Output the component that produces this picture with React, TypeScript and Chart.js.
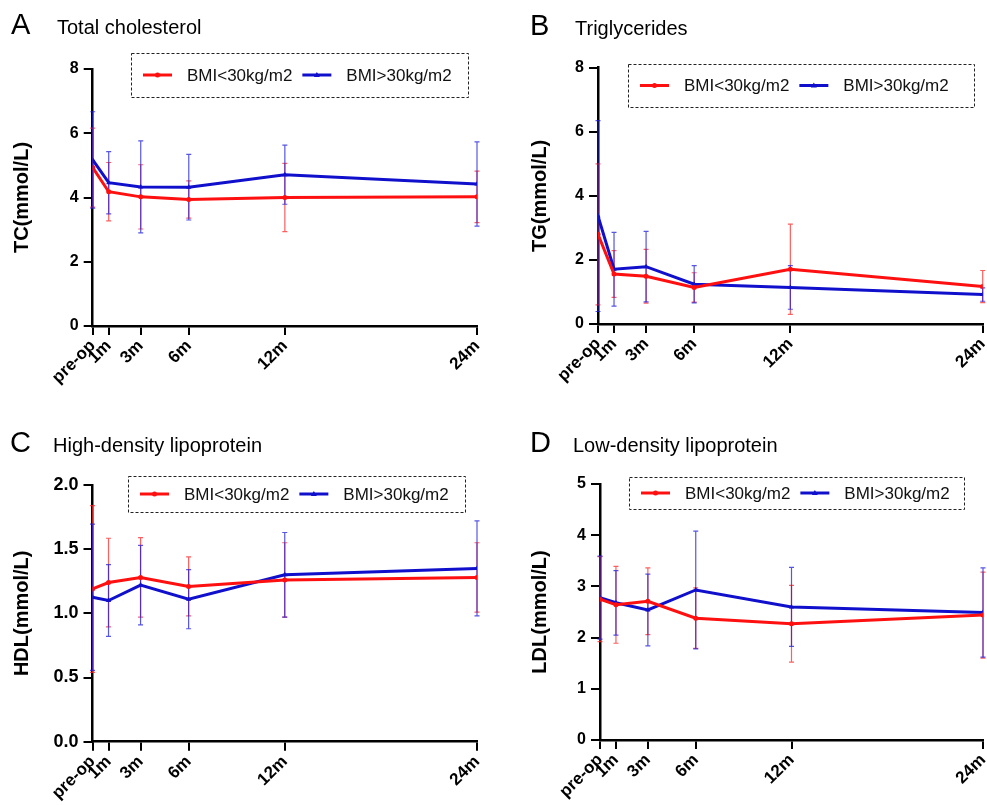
import React, { useEffect, useRef } from 'react';
import { Chart, registerables } from 'chart.js';

Chart.register(...registerables);

// ---- data ----
const xMonths = [0, 1, 3, 6, 12, 24];
const xLabels = ['pre-op', '1m', '3m', '6m', '12m', '24m'];
const seriesNames = ['BMI<30kg/m2', 'BMI>30kg/m2'];

const tcLow = [4.93, 4.18, 4.02, 3.94, 4.0, 4.02];
const tcLowSd = [1.23, 0.91, 1.0, 0.58, 1.06, 0.8];
const tcHigh = [5.17, 4.46, 4.33, 4.32, 4.71, 4.42];
const tcHighSd = [1.5, 0.97, 1.43, 1.02, 0.92, 1.31];

const tgLow = [2.8, 1.56, 1.49, 1.14, 1.71, 1.17];
const tgLowSd = [2.2, 0.73, 0.84, 0.46, 1.41, 0.5];
const tgHigh = [3.37, 1.71, 1.79, 1.24, 1.14, 0.92];
const tgHighSd = [2.98, 1.15, 1.1, 0.58, 0.68, 0.21];

const hdlLow = [1.19, 1.24, 1.28, 1.21, 1.26, 1.28];
const hdlLowSd = [0.65, 0.345, 0.31, 0.23, 0.29, 0.27];
const hdlHigh = [1.125, 1.1, 1.22, 1.11, 1.3, 1.35];
const hdlHighSd = [0.57, 0.28, 0.31, 0.23, 0.33, 0.37];

const ldlLow = [2.75, 2.64, 2.71, 2.38, 2.27, 2.44];
const ldlLowSd = [0.83, 0.75, 0.65, 0.59, 0.75, 0.84];
const ldlHigh = [2.78, 2.68, 2.54, 2.93, 2.6, 2.49];
const ldlHighSd = [0.81, 0.63, 0.7, 1.15, 0.77, 0.87];

const RED = '#ff1010';
const BLUE = '#1010cc';
const RED_ERR = 'rgba(255,40,40,0.75)';
const BLUE_ERR = 'rgba(30,30,220,0.75)';
const FONT = '"Liberation Sans", Arial, Helvetica, sans-serif';

type Panel = {
  letter: string;
  title: string;
  yTitle: string;
  yMax: number;
  yStep: number;
  decimals: number;
  yTickSize: number;
  low: number[];
  lowSd: number[];
  high: number[];
  highSd: number[];
  // layout (canvas-local)
  left: number;
  top: number;
  width: number;
  height: number;
  pad: { left: number; top: number; right: number };
  yWidth: number;
  xHeight: number;
  letterX: number;
  titleX: number;
  titleBaseline: number;
  legendBox: { x: number; y: number; w: number; h: number };
};

const panels: Panel[] = [
  {
    letter: 'A', title: 'Total cholesterol', yTitle: 'TC(mmol/L)', yMax: 8, yStep: 2, decimals: 0, yTickSize: 16,
    low: tcLow, lowSd: tcLowSd, high: tcHigh, highSd: tcHighSd,
    left: 0, top: 0, width: 493, height: 400,
    pad: { left: 6, top: 69, right: 16 }, yWidth: 86.7, xHeight: 74,
    letterX: 11, titleX: 57, titleBaseline: 34,
    legendBox: { x: 131, y: 53, w: 337, h: 44 },
  },
  {
    letter: 'B', title: 'Triglycerides', yTitle: 'TG(mmol/L)', yMax: 8, yStep: 2, decimals: 0, yTickSize: 16,
    low: tgLow, lowSd: tgLowSd, high: tgHigh, highSd: tgHighSd,
    left: 493, top: 0, width: 494, height: 400,
    pad: { left: 31, top: 67.7, right: 4.3 }, yWidth: 74, xHeight: 76,
    letterX: 37, titleX: 82, titleBaseline: 35,
    legendBox: { x: 135, y: 64, w: 346, h: 43 },
  },
  {
    letter: 'C', title: 'High-density lipoprotein', yTitle: 'HDL(mmol/L)', yMax: 2, yStep: 0.5, decimals: 1, yTickSize: 18,
    low: hdlLow, lowSd: hdlLowSd, high: hdlHigh, highSd: hdlHighSd,
    left: 0, top: 400, width: 493, height: 405,
    pad: { left: 6, top: 85, right: 16 }, yWidth: 86.5, xHeight: 63.3,
    letterX: 10, titleX: 53, titleBaseline: 52,
    legendBox: { x: 128, y: 76, w: 337, h: 36 },
  },
  {
    letter: 'D', title: 'Low-density lipoprotein', yTitle: 'LDL(mmol/L)', yMax: 5, yStep: 1, decimals: 0, yTickSize: 16,
    low: ldlLow, lowSd: ldlLowSd, high: ldlHigh, highSd: ldlHighSd,
    left: 493, top: 400, width: 494, height: 405,
    pad: { left: 31, top: 84, right: 4 }, yWidth: 76, xHeight: 65,
    letterX: 37, titleX: 80, titleBaseline: 52,
    legendBox: { x: 136, y: 77, w: 335, h: 32 },
  },
];

const errorBarPlugin = {
  id: 'errorBars',
  beforeDatasetsDraw(chart: any) {
    const { ctx } = chart;
    const yScale = chart.scales.y;
    chart.data.datasets.forEach((ds: any, i: number) => {
      const meta = chart.getDatasetMeta(i);
      meta.data.forEach((pt: any, j: number) => {
        const v = ds.data[j].y;
        const e = ds.errors[j];
        const x = pt.x;
        const yt = yScale.getPixelForValue(v + e);
        const yb = yScale.getPixelForValue(Math.max(v - e, 0));
        ctx.save();
        ctx.strokeStyle = ds.errorColor;
        ctx.lineWidth = 1.2;
        ctx.beginPath();
        ctx.moveTo(x, yt);
        ctx.lineTo(x, yb);
        ctx.moveTo(x - 2.5, yt);
        ctx.lineTo(x + 2.5, yt);
        ctx.moveTo(x - 2.5, yb);
        ctx.lineTo(x + 2.5, yb);
        ctx.stroke();
        ctx.restore();
      });
    });
  },
};

const decorPlugin = {
  id: 'decor',
  afterDraw(chart: any) {
    const o = chart.options.plugins.decor;
    const { ctx } = chart;
    ctx.save();
    // panel letter and title
    ctx.fillStyle = '#000';
    ctx.textBaseline = 'alphabetic';
    ctx.textAlign = 'left';
    ctx.font = `29px ${FONT}`;
    ctx.fillText(o.letter, o.letterX, o.titleBaseline);
    ctx.font = `20px ${FONT}`;
    ctx.fillText(o.title, o.titleX, o.titleBaseline);

    // legend box
    const b = o.legendBox;
    ctx.strokeStyle = '#222';
    ctx.lineWidth = 1;
    ctx.setLineDash([3, 2]);
    ctx.strokeRect(b.x + 0.5, b.y + 0.5, b.w, b.h);
    ctx.setLineDash([]);

    const cy = b.y + b.h / 2;
    ctx.font = `17px ${FONT}`;
    ctx.textBaseline = 'middle';
    let x = b.x + 12;
    chart.data.datasets.forEach((ds: any) => {
      ctx.strokeStyle = ds.borderColor;
      ctx.lineWidth = 3;
      ctx.beginPath();
      ctx.moveTo(x, cy);
      ctx.lineTo(x + 29, cy);
      ctx.stroke();
      ctx.fillStyle = ds.borderColor;
      const mx = x + 14.5;
      if (ds.pointStyle === 'triangle') {
        ctx.beginPath();
        ctx.moveTo(mx, cy - 3);
        ctx.lineTo(mx + 3, cy + 2);
        ctx.lineTo(mx - 3, cy + 2);
        ctx.closePath();
        ctx.fill();
      } else {
        ctx.beginPath();
        ctx.arc(mx, cy, 2.5, 0, Math.PI * 2);
        ctx.fill();
      }
      ctx.fillStyle = '#111';
      const tx = x + 44;
      ctx.fillText(ds.label, tx, cy + 1);
      x = tx + ctx.measureText(ds.label).width + 10;
    });
    ctx.restore();
  },
};

function PanelChart({ p }: { p: Panel }) {
  const ref = useRef<HTMLCanvasElement | null>(null);
  useEffect(() => {
    if (!ref.current) return;
    const mk = (vals: number[]) => xMonths.map((m, i) => ({ x: m, y: vals[i] }));
    const chart = new Chart(ref.current, {
      type: 'line',
      data: {
        datasets: [
          {
            label: seriesNames[0],
            data: mk(p.low),
            errors: p.lowSd,
            errorColor: RED_ERR,
            borderColor: RED,
            backgroundColor: RED,
            borderWidth: 3,
            pointStyle: 'circle',
            pointRadius: 2.5,
            pointBorderWidth: 0,
            tension: 0,
          } as any,
          {
            label: seriesNames[1],
            data: mk(p.high),
            errors: p.highSd,
            errorColor: BLUE_ERR,
            borderColor: BLUE,
            backgroundColor: BLUE,
            borderWidth: 3,
            pointStyle: 'triangle',
            pointRadius: 3,
            pointBorderWidth: 0,
            tension: 0,
          } as any,
        ],
      },
      options: {
        animation: false,
        responsive: false,
        layout: { padding: { left: p.pad.left, top: p.pad.top, right: p.pad.right, bottom: 0 } },
        plugins: {
          legend: { display: false },
          tooltip: { enabled: false },
          decor: {
            letter: p.letter,
            title: p.title,
            letterX: p.letterX,
            titleX: p.titleX,
            titleBaseline: p.titleBaseline,
            legendBox: p.legendBox,
          },
        } as any,
        scales: {
          x: {
            type: 'linear',
            min: 0,
            max: 24,
            afterBuildTicks: (s: any) => {
              s.ticks = xMonths.map((v) => ({ value: v }));
            },
            afterFit: (s: any) => {
              s.height = p.xHeight;
              s.paddingLeft = 0;
              s.paddingRight = 0;
            },
            ticks: {
              autoSkip: false,
              minRotation: 45,
              maxRotation: 45,
              color: '#000',
              padding: 1,
              font: { family: FONT, size: 17, weight: 'bold' },
              callback: (v: any) => {
                const i = xMonths.indexOf(Number(v));
                return i >= 0 ? xLabels[i] : '';
              },
            },
            grid: { display: true, drawOnChartArea: false, drawTicks: true, tickLength: 9, color: '#000', lineWidth: 2 },
            border: { display: true, color: '#000', width: 2.5 },
          },
          y: {
            min: 0,
            max: p.yMax,
            afterFit: (s: any) => {
              s.width = p.yWidth;
              s.paddingTop = 0;
              s.paddingBottom = 0;
            },
            ticks: {
              stepSize: p.yStep,
              color: '#000',
              padding: 5,
              font: { family: FONT, size: p.yTickSize, weight: 'bold' },
              callback: (v: any) => Number(v).toFixed(p.decimals),
            },
            grid: { display: true, drawOnChartArea: false, drawTicks: true, tickLength: 9, color: '#000', lineWidth: 2 },
            border: { display: true, color: '#000', width: 2.5 },
            title: {
              display: true,
              text: p.yTitle,
              color: '#000',
              padding: { top: 4, bottom: 4 },
              font: { family: FONT, size: 20, weight: 'bold' },
            },
          },
        },
      } as any,
      plugins: [errorBarPlugin, decorPlugin] as any,
    });
    return () => chart.destroy();
  }, [p]);
  return (
    <canvas
      ref={ref}
      width={p.width}
      height={p.height}
      style={{ position: 'absolute', left: p.left, top: p.top, width: p.width, height: p.height, display: 'block' }}
    />
  );
}

export default function App() {
  return (
    <div style={{ position: 'absolute', left: 0, top: 0, width: 987, height: 805, background: '#fff', overflow: 'hidden' }}>
      {panels.map((p) => (
        <PanelChart key={p.letter} p={p} />
      ))}
    </div>
  );
}
